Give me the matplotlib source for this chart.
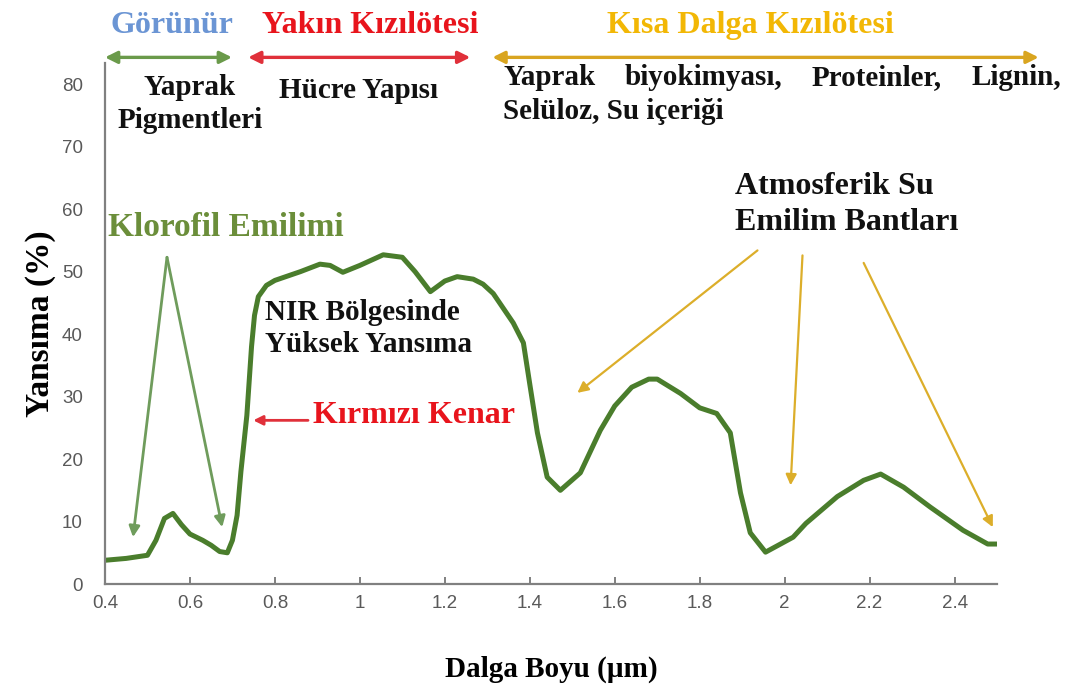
import matplotlib.pyplot as plt

# Reflectance curve of green vegetation
wavelength = [0.40, 0.45, 0.50, 0.52, 0.54, 0.56, 0.58, 0.60, 0.63, 0.65, 0.67, 0.688,
              0.70, 0.711, 0.72, 0.734, 0.745, 0.752, 0.761, 0.78, 0.80, 0.86, 0.906,
              0.93, 0.96, 1.00, 1.055, 1.10, 1.13, 1.166, 1.20, 1.229, 1.267, 1.29,
              1.314, 1.361, 1.385, 1.40, 1.418, 1.441, 1.472, 1.519, 1.566, 1.60, 1.64,
              1.68, 1.70, 1.755, 1.80, 1.84, 1.872, 1.896, 1.919, 1.955, 2.02, 2.05,
              2.124, 2.186, 2.226, 2.28, 2.343, 2.42, 2.478, 2.50]
reflectance = [3.8, 4.1, 4.6, 7.0, 10.5, 11.3, 9.5, 8.0, 7.0, 6.2, 5.2, 5.0,
               7.0, 11.0, 18.0, 27.0, 38.0, 43.0, 46.0, 47.8, 48.6, 50.0, 51.2,
               51.0, 49.9, 51.0, 52.7, 52.3, 50.0, 46.8, 48.5, 49.2, 48.8, 48.0,
               46.5, 41.8, 38.6, 32.0, 24.2, 17.1, 15.0, 17.8, 24.6, 28.5, 31.5,
               32.8, 32.8, 30.5, 28.2, 27.3, 24.2, 14.6, 8.2, 5.1, 7.5, 9.7,
               14.0, 16.6, 17.6, 15.5, 12.3, 8.6, 6.4, 6.4]

x_ticks = [0.4, 0.6, 0.8, 1.0, 1.2, 1.4, 1.6, 1.8, 2.0, 2.2, 2.4]
x_tick_labels = ['0.4', '0.6', '0.8', '1', '1.2', '1.4', '1.6', '1.8', '2', '2.2', '2.4']
y_ticks = [0, 10, 20, 30, 40, 50, 60, 70, 80]

# Region headers: (label, text x, arrow start, arrow end, text colour, arrow colour)
regions = [
    ('Görünür', 0.558, 0.400, 0.699, '#6b95d4', '#6a9a4a'),
    ('Yakın Kızılötesi', 1.024, 0.737, 1.260, '#e8141c', '#e0303a'),
    ('Kısa Dalga Kızılötesi', 1.919, 1.312, 2.598, '#f2b705', '#d9a520'),
]
swir_words = ['Yaprak', 'biyokimyası,', 'Proteinler,', 'Lignin,']

# chlorophyll absorption arrows (from apex to tips)
chl_apex = (0.546, 52.3)
chl_tips = [(0.466, 7.5), (0.676, 9.1)]

# atmospheric water absorption arrows (start, tip)
water_starts = [(1.936, 53.4), (2.042, 52.6), (2.186, 51.4)]
water_tips = [(1.512, 30.6), (2.014, 15.8), (2.49, 9.1)]

serif = 'Liberation Serif'

fig = plt.figure(figsize=(10.69, 6.90), dpi=100)
ax = fig.add_axes([0.0982, 0.1536, 0.8345, 0.7551])

ax.plot(wavelength, reflectance, color='#4a7d2c', lw=3.6,
        solid_joinstyle='round', solid_capstyle='round')

ax.set_xlim(0.4, 2.5)
ax.set_ylim(0, 83.4)
ax.set_xticks(x_ticks)
ax.set_xticklabels(x_tick_labels)
ax.set_yticks(y_ticks)
for s in ['top', 'right']:
    ax.spines[s].set_visible(False)
for s in ['left', 'bottom']:
    ax.spines[s].set_color('#808080')
    ax.spines[s].set_linewidth(1.6)
ax.tick_params(axis='x', direction='in', length=5, width=1.4, color='#808080',
               labelsize=13.5, labelcolor='#595959', pad=8)
ax.tick_params(axis='y', length=0, labelsize=13.5, labelcolor='#595959', pad=16)
for lab in ax.get_xticklabels() + ax.get_yticklabels():
    lab.set_family('Liberation Sans')

ax.set_xlabel('Dalga Boyu (µm)', family=serif, weight='bold', fontsize=21, labelpad=31)
ax.set_ylabel('Yansıma (%)', family=serif, weight='bold', fontsize=24, labelpad=4)

# headers with double arrows
for name, tx, a0, a1, tcol, acol in regions:
    ax.text(tx, 89.4, name, family=serif, weight='bold', fontsize=23, color=tcol,
            ha='center', va='center', clip_on=False)
    ax.annotate('', xy=(a1, 84.3), xytext=(a0, 84.3), annotation_clip=False,
                arrowprops=dict(arrowstyle='<|-|>', color=acol, lw=2.4,
                                mutation_scale=18, shrinkA=0, shrinkB=0))

black = dict(family=serif, weight='bold', fontsize=21, color='#111111', clip_on=False)
ax.text(0.60, 76.9, 'Yaprak\nPigmentleri', ha='center', va='center', linespacing=1.28, **black)
ax.text(0.996, 79.0, 'Hücre Yapısı', ha='center', va='center', **black)

# justified first line of the SWIR description
renderer = fig.canvas.get_renderer()
words = [ax.text(1.338, 81.0, w, ha='left', va='center', **black) for w in swir_words]
widths = [t.get_window_extent(renderer).width for t in words]
left_px = ax.transData.transform((1.338, 0))[0]
right_px = ax.transData.transform((2.65, 0))[0]
gap = (right_px - left_px - sum(widths)) / (len(words) - 1)
pos = left_px
for t, w in zip(words, widths):
    t.set_x(ax.transData.inverted().transform((pos, 0))[0])
    pos += w + gap
ax.text(1.338, 75.7, 'Selüloz, Su içeriği', ha='left', va='center', **black)

ax.text(0.777, 40.9, 'NIR Bölgesinde\nYüksek Yansıma', ha='left', va='center',
        linespacing=1.28, **black)
ax.text(1.884, 60.7, 'Atmosferik Su\nEmilim Bantları', ha='left', va='center',
        linespacing=1.32, family=serif, weight='bold', fontsize=23, color='#111111')

ax.text(0.407, 57.0, 'Klorofil Emilimi', family=serif, weight='bold', fontsize=24,
        color='#6b8e3a', ha='left', va='center')
for tip in chl_tips:
    ax.annotate('', xy=tip, xytext=chl_apex,
                arrowprops=dict(arrowstyle='-|>', color='#6f9c5c', lw=2.0,
                                mutation_scale=16, shrinkA=0, shrinkB=0))

ax.text(0.89, 27.0, 'Kırmızı Kenar', family=serif, weight='bold', fontsize=23,
        color='#e8141c', ha='left', va='center')
ax.annotate('', xy=(0.749, 26.2), xytext=(0.878, 26.2),
            arrowprops=dict(arrowstyle='-|>', color='#e0303a', lw=2.0,
                            mutation_scale=14, shrinkA=0, shrinkB=0))

for st, tp in zip(water_starts, water_tips):
    ax.annotate('', xy=tp, xytext=st, annotation_clip=False,
                arrowprops=dict(arrowstyle='-|>', color='#dcae2a', lw=1.6,
                                mutation_scale=16, shrinkA=0, shrinkB=0))

fig.savefig('out.png', dpi=100)
